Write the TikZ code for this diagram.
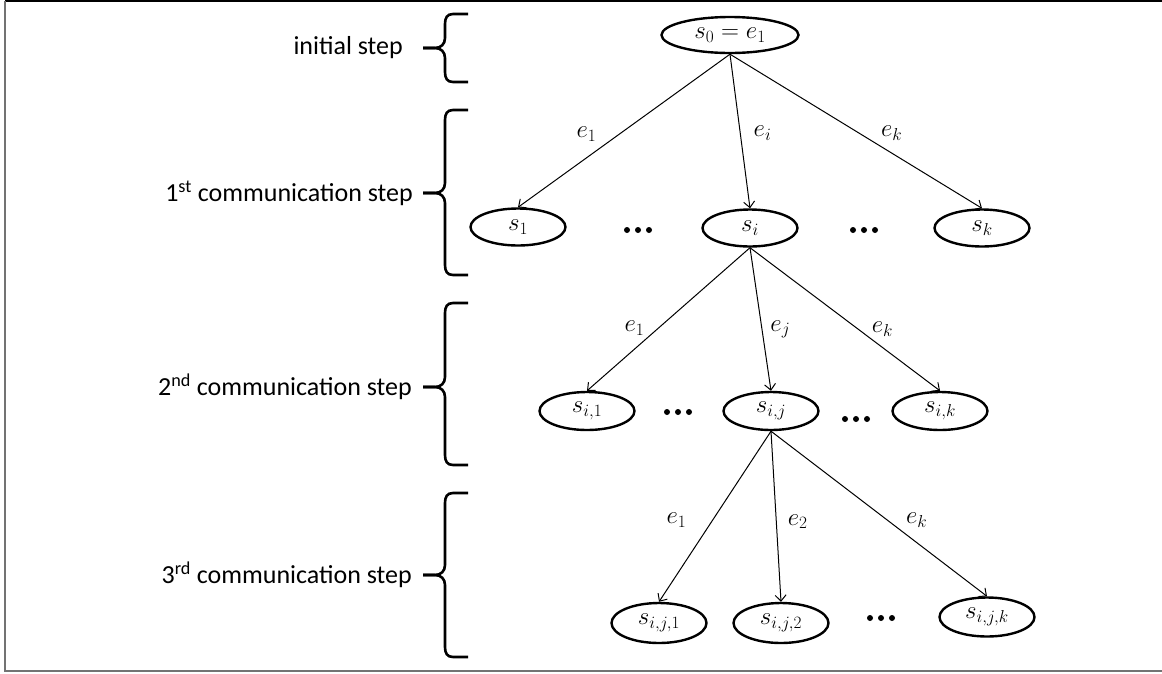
\documentclass[tikz,border=0pt]{standalone}
\usepackage[no-math]{fontspec}
\setmainfont{Carlito}
\usetikzlibrary{arrows.meta,shapes.geometric,positioning}
\tikzset{
>={Straight Barb[length=6pt,width=11pt]},
  state/.style={
    ellipse,
    draw=black, line width=2.4pt,
    inner sep=0pt,
    minimum width=95pt,
    minimum height=37pt,
    font=\fontsize{24}{28}\selectfont},
  edge/.style={->, line width=1pt},
  lbl/.style={inner sep=1pt, font=\fontsize{24}{28}\selectfont},
  steplabel/.style={inner sep=0pt, font=\fontsize{26}{30}\selectfont},
  bracket/.style={line width=2.6pt},
  dotrow/.pic={\foreach \dx in {-11,0,11} \fill (\dx,0) circle (3pt);},
}
% curly brace: name, top, tip, bottom
\newcommand{\stepbrace}[4]{%
  \draw[bracket] (468,#2) -- (453,#2) .. controls (447,#2) and (445,#2+4) .. (445,#2+10)
    -- (445,#3-10) .. controls (445,#3-4) and (441,#3) .. (435,#3) -- (423,#3);
  \draw[bracket] (423,#3) -- (435,#3) .. controls (441,#3) and (445,#3+4) .. (445,#3+10)
    -- (445,#4-10) .. controls (445,#4-4) and (447,#4) .. (453,#4) -- (468,#4);
  \coordinate (#1) at (423,#3);
}
\begin{document}
\begin{tikzpicture}[x=1pt, y=-1pt]
    \useasboundingbox (0,0) rectangle (1162,673);

    %frame
    \draw[line width=2pt] (5,1) -- (1162,1);
    \draw[line width=2pt, black!55] (5,1) -- (5,671) -- (1162,671);

    %braces and steps
    \stepbrace{b0}{14}{48}{82}
    \stepbrace{b1}{110}{193}{275}
    \stepbrace{b2}{303}{387}{465}
    \stepbrace{b3}{493}{575}{657}

    \node[steplabel, left=20pt of b0] (l0) {initial step};
    \node[steplabel, left=10pt of b1] (l1) {1\textsuperscript{st} communication step};
    \node[steplabel, left=11pt of b2] (l2) {2\textsuperscript{nd} communication step};
    \node[steplabel, left=11pt of b3] (l3) {3\textsuperscript{rd} communication step};

    %states
    \node[state, minimum width=137pt, minimum height=36pt] (s0) at (730,35) {$s_0=e_1$};

    \node[state] (s1) at (518,227) {$s_1$};
    \node[state] (si) at (750,228) {$s_i$};
    \node[state] (sk) at (982,228) {$s_k$};

    \node[state, minimum height=38pt] (si1) at (587,411) {$s_{i,1}$};
    \node[state, minimum height=38pt] (sij) at (771,411) {$s_{i,j}$};
    \node[state, minimum height=38pt] (sik) at (940,411) {$s_{i,k}$};

    \node[state, minimum height=40pt] (sij1) at (659,623) {$s_{i,j,1}$};
    \node[state, minimum height=40pt] (sij2) at (781,623) {$s_{i,j,2}$};
    \node[state, minimum height=39pt] (sijk) at (987,617) {$s_{i,j,k}$};

    %dots
    \pic at (638,230) {dotrow};
    \pic at (864,230) {dotrow};
    \pic at (678,412) {dotrow};
    \pic at (856,419) {dotrow};
    \pic at (881,618) {dotrow};

    %edges
    \draw[edge] (s0.south) -- (s1.north) node[lbl, pos=.52, left=22pt] (e01) {$e_1$};
    \draw[edge] (s0.south) -- (si.north) node[lbl, pos=.51, right=12pt] (e0i) {$e_i$};
    \draw[edge] (s0.south) -- (sk.north) node[lbl, pos=.51, right=21pt] (e0k) {$e_k$};

    \draw[edge] (si.south) -- (si1.north) node[lbl, pos=.56, left=13pt] (ei1) {$e_1$};
    \draw[edge] (si.south) -- (sij.north) node[lbl, pos=.57, right=7pt] (eij) {$e_j$};
    \draw[edge] (si.south) -- (sik.north) node[lbl, pos=.57, right=12pt] (eik) {$e_k$};

    \draw[edge] (sij.south) -- (sij1.north) node[lbl, pos=.52, left=25pt] (ej1) {$e_1$};
    \draw[edge] (sij.south) -- (sij2.north) node[lbl, pos=.53, right=10pt] (ej2) {$e_2$};
    \draw[edge] (sij.south) -- (sijk.north) node[lbl, pos=.54, right=17pt] (ejk) {$e_k$};

\end{tikzpicture}
\end{document}
